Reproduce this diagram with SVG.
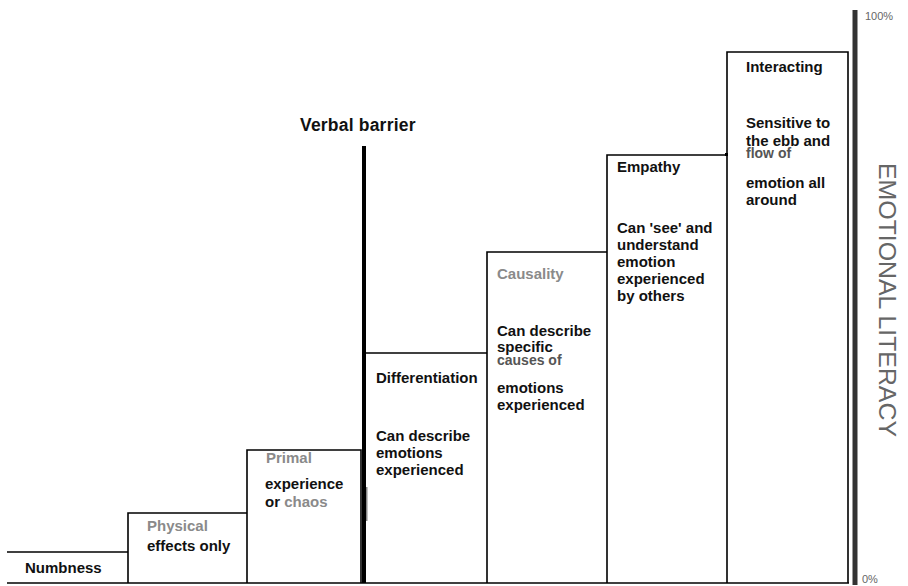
<svg xmlns="http://www.w3.org/2000/svg" width="908" height="586" viewBox="0 0 908 586">
  <style>
    .edge { fill: none; stroke: #000; stroke-width: 1.6; }
    .t { font-family: "Liberation Sans", Arial, sans-serif; font-size: 15px; font-weight: bold; fill: #111; }
    .g { fill: #8a8a8a; }
    .m { fill: #555; font-size: 14px; }
    .axis-lbl { font-family: "Liberation Sans", Arial, sans-serif; fill: #666; }
  </style>
  <rect width="908" height="586" fill="#fff"/>

  <!-- staircase outline -->
  <g id="connectors">
    <path class="edge" d="M7,583 H849"/>
    <path class="edge" d="M7,552 H128"/>
    <path class="edge" d="M128,583 V513 H247"/>
    <path class="edge" d="M247,583 V450 H361 V583"/>
    <path class="edge" d="M366,353 H487"/>
    <path class="edge" d="M487,583 V252 H607"/>
    <path class="edge" d="M607,583 V155 H727"/>
    <path class="edge" d="M727,583 V52 H848 V583"/>
    <rect x="725" y="153" width="3" height="3" fill="#000"/>
  </g>

  <!-- verbal barrier -->
  <g id="verbal-barrier">
    <text class="t" x="300" y="131" style="font-size:17.5px;letter-spacing:0.2px">Verbal barrier</text>
    <rect x="362" y="146" width="4" height="437" fill="#000"/>
    <rect x="366" y="487" width="1.5" height="34" fill="#888"/>
  </g>

  <g id="numbness">
    <text class="t" x="25" y="573">Numbness</text>
  </g>

  <g id="physical">
    <text class="t g" x="147" y="531">Physical</text>
    <text class="t" x="147" y="551">effects only</text>
  </g>

  <g id="primal">
    <text class="t g" x="266" y="463">Primal</text>
    <text class="t" x="265" y="489">experience</text>
    <text class="t" x="265" y="507">or <tspan class="g">chaos</tspan></text>
  </g>

  <g id="differentiation">
    <text class="t" x="376" y="383">Differentiation</text>
    <text class="t" x="376" y="441">Can describe</text>
    <text class="t" x="376" y="458">emotions</text>
    <text class="t" x="376" y="475">experienced</text>
  </g>

  <g id="causality">
    <text class="t g" x="497" y="279">Causality</text>
    <text class="t" x="497" y="336">Can describe</text>
    <text class="t" x="497" y="352">specific</text>
    <text class="t m" x="497" y="365">causes of</text>
    <text class="t" x="497" y="393">emotions</text>
    <text class="t" x="497" y="410">experienced</text>
  </g>

  <g id="empathy">
    <text class="t" x="617" y="172">Empathy</text>
    <text class="t" x="617" y="233">Can 'see' and</text>
    <text class="t" x="617" y="250">understand</text>
    <text class="t" x="617" y="267">emotion</text>
    <text class="t" x="617" y="284">experienced</text>
    <text class="t" x="617" y="301">by others</text>
  </g>

  <g id="interacting">
    <text class="t" x="746" y="72">Interacting</text>
    <text class="t" x="746" y="128">Sensitive to</text>
    <text class="t" x="746" y="146">the ebb and</text>
    <text class="t m" x="746" y="158">flow of</text>
    <text class="t" x="746" y="188">emotion all</text>
    <text class="t" x="746" y="205">around</text>
  </g>

  <!-- literacy scale -->
  <g id="scale">
    <rect x="853" y="10" width="4" height="575" fill="#333"/>
    <rect x="852" y="10" width="1" height="575" fill="#999"/>
    <rect x="857" y="10" width="1" height="575" fill="#999"/>
    <text class="axis-lbl" x="865" y="20" font-size="11">100%</text>
    <text class="axis-lbl" x="862" y="583" font-size="11">0%</text>
    <text class="axis-lbl" font-size="24" fill="#555" transform="translate(879,163) rotate(90)" textLength="274" lengthAdjust="spacingAndGlyphs">EMOTIONAL LITERACY</text>
  </g>
</svg>
